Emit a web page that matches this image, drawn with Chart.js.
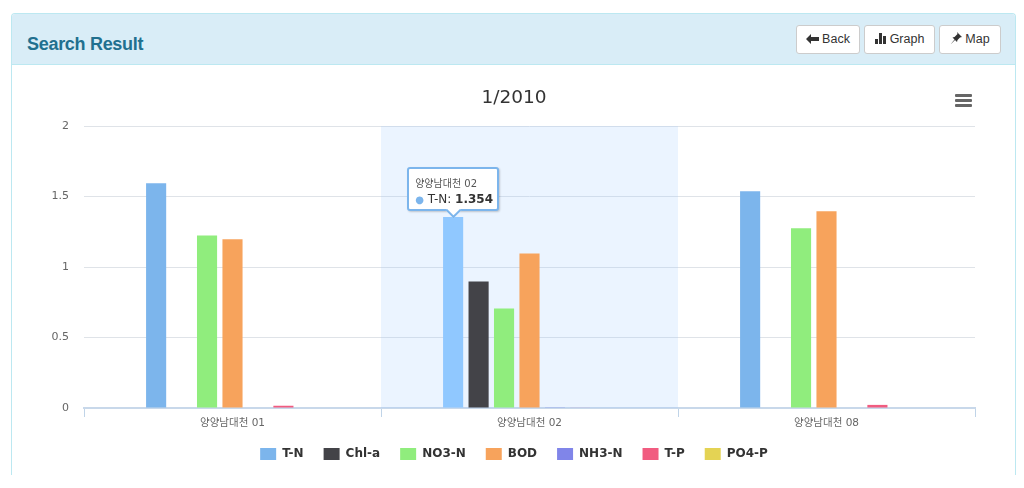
<!DOCTYPE html>
<html>
<head>
<meta charset="utf-8">
<script src="https://cdn.jsdelivr.net/npm/chart.js@4"></script>
<style>
    html,body{margin:0;padding:0;background:#fff;width:1024px;height:488px;overflow:hidden;}
    .panel{position:absolute;left:11px;top:13px;width:1003px;height:461px;border:1px solid #bce8f1;border-bottom:none;border-radius:4px 4px 0 0;box-sizing:content-box;}
    .heading{position:absolute;left:0;top:0;right:0;height:50px;background:#d9edf7;border-bottom:1px solid #bce8f1;border-radius:3px 3px 0 0;}
    .heading h3{position:absolute;left:15px;top:19px;margin:0;font:bold 18px/22px "Liberation Sans",sans-serif;color:#21708f;letter-spacing:-0.3px;}
    .btn{position:absolute;top:11px;height:29px;box-sizing:border-box;background:#fff;border:1px solid #ccc;border-radius:3px;font:12.5px/27px "Liberation Sans",sans-serif;color:#333;text-align:center;white-space:nowrap;}
    .btn svg{vertical-align:-1px;margin-right:3px;}
    #wrap{position:absolute;left:14px;top:65px;width:1000px;height:423px;}
    .menu{position:absolute;left:955px;top:94px;width:17px;height:13px;}
    .menu i{display:block;height:3px;margin-bottom:2px;background:#666;border-radius:1px;}
    #tip{position:absolute;display:none;width:92px;height:44px;box-sizing:border-box;background:#fff;border:2px solid #7cb5ec;border-radius:3px;box-shadow:1px 1px 2px rgba(0,0,0,.2);font-family:"DejaVu Sans","Noto Sans CJK KR",sans-serif;color:#333;white-space:nowrap;}
    #tip .t{position:absolute;left:6px;top:8px;font-size:10px;line-height:13px;color:#555;}
    #tip .b{position:absolute;left:6px;top:22px;font-size:12px;line-height:16px;}
    #tip .b span{color:#7cb5ec;font-size:10px;}
    #tip .arrow{position:absolute;left:39px;bottom:-7px;width:9px;height:9px;background:#fff;border-right:2px solid #7cb5ec;border-bottom:2px solid #7cb5ec;transform:rotate(45deg);}
</style>
</head>
<body>
<div class="panel">
    <div class="heading">
        <h3>Search Result</h3>
        <div class="btn" style="left:784px;width:64px;"><svg width="13" height="10" viewBox="0 0 13 10"><path d="M0 5 5 0v3h8v4H5v3z" fill="#333"/></svg>Back</div>
        <div class="btn" style="left:852px;width:71px;"><svg width="12" height="11" viewBox="0 0 12 11"><path d="M0 6h3v5H0zM4 0h3v11H4zM8 3h3v8H8z" fill="#333"/></svg>Graph</div>
        <div class="btn" style="left:927px;width:62px;"><svg width="12" height="12" viewBox="0 0 12 12"><path d="M7 0l5 5-2 .5-2.500 2.500-.5 2-2-2-4.500 4.500 4-5-2-2 2-.5L7.500 2z" fill="#333"/></svg>Map</div>
    </div>
</div>
<div id="wrap"><canvas id="chart" width="1000" height="423"></canvas></div>
<div class="menu"><i></i><i></i><i></i></div>
<div id="tip"><div class="t"></div><div class="b"></div><div class="arrow"></div></div>

<script>
const categories = ['양양남대천 01','양양남대천 02','양양남대천 08'];
const seriesNames = ['T-N','Chl-a','NO3-N','BOD','NH3-N','T-P','PO4-P'];
const seriesColors = ['#7cb5ec','#434348','#90ed7d','#f7a35c','#8085e9','#f15c80','#e4d354'];
const tN = [1.594,1.354,1.537];
const chlA = [null,0.897,null];
const no3N = [1.224,0.705,1.274];
const bod = [1.196,1.096,1.395];
const nh3N = [0,0.002,0];
const tP = [0.016,0.004,0.022];
const po4P = [0,0,0];
const seriesValues = [tN,chlA,no3N,bod,nh3N,tP,po4P];

const baseFont = '"DejaVu Sans","Noto Sans CJK KR",sans-serif';

// the light band behind the hovered category
const bandPlugin = {
    id:'band',
    beforeDatasetsDraw(chart){
        const x = chart.scales.x, area = chart.chartArea, half = (x.getPixelForValue(1)-x.getPixelForValue(0))/2;
        const c = x.getPixelForValue(1);
        chart.ctx.save();
        chart.ctx.fillStyle = 'rgba(155,200,255,0.2)';
        chart.ctx.fillRect(c-half,area.top,half*2,area.bottom-area.top);
        chart.ctx.restore();
    }
};

function drawTip(ctx){
    const tt = ctx.tooltip, el = document.getElementById('tip');
    if(tt.opacity===0 || !tt.dataPoints){ el.style.display='none'; return; }
    const p = tt.dataPoints[0];
    el.querySelector('.t').textContent = p.label;
    el.querySelector('.b').innerHTML = '<span>●</span> '+p.dataset.label+': <b>'+p.raw+'</b>';
    el.style.display = 'block';
    el.style.left = (14+tt.caretX-46)+'px';
    el.style.top = (65+tt.caretY-50)+'px';
}

const chart = new Chart(document.getElementById('chart'),{
    type:'bar',
    data:{
        labels:categories,
        datasets:seriesNames.map((name,i)=>({
            label:name,
            data:seriesValues[i],
            backgroundColor:seriesColors[i],
            hoverBackgroundColor:i===0?'#90c8ff':seriesColors[i],
            borderWidth:0,
            categoryPercentage:0.6,
            barPercentage:0.79
        }))
    },
    options:{
        responsive:false,
        animation:false,
        events:[],
        layout:{padding:{left:0,right:0,top:0,bottom:18}},
        plugins:{
            title:{
                display:true,
                text:'1/2010',
                color:'#333',
                font:{family:baseFont,size:18.5,weight:'normal'},
                padding:{top:22,bottom:16.8}
            },
            legend:{
                position:'bottom',
                labels:{
                    boxWidth:16,
                    boxHeight:12,
                    padding:20,
                    color:'#333',
                    font:{family:baseFont,size:12,weight:'bold'}
                }
            },
            tooltip:{enabled:false,external:drawTip}
        },
        scales:{
            x:{
                afterFit(scale){ scale.height = 20; },
                grid:{drawOnChartArea:false,color:'#c0d4e8',tickLength:9},
                border:{color:'#c8d8ea',width:2},
                ticks:{color:'#666',padding:0,font:{family:baseFont,size:10.5}}
            },
            y:{
                min:0,
                max:2,
                afterFit(scale){ scale.width = 70; },
                grid:{color:'#dfe3e8',drawTicks:false},
                border:{display:false},
                ticks:{stepSize:0.5,color:'#666',padding:15,font:{family:baseFont,size:11},callback:v=>String(v)}
            },
            // empty axis, only keeps the plot off the right edge so title and legend stay centred
            yRight:{
                position:'right',
                afterFit(scale){ scale.width = 39; },
                grid:{display:false},
                border:{display:false},
                ticks:{display:false}
            }
        }
    },
    plugins:[bandPlugin]
});

const active = [{datasetIndex:0,index:1}];
chart.tooltip.setActiveElements(active,{x:0,y:0});
chart.setActiveElements(active);
chart.update();
</script>
</body>
</html>
